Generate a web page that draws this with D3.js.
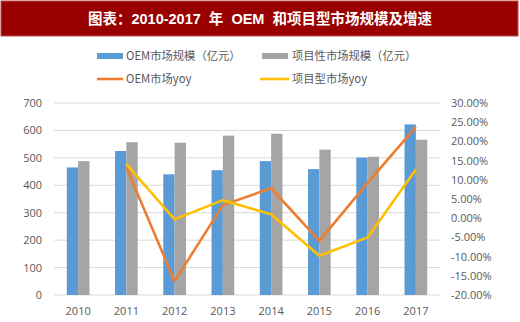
<!DOCTYPE html>
<html>
<head>
<meta charset="utf-8">
<script src="https://cdn.jsdelivr.net/npm/d3@7"></script>
<style>
body { margin: 0; background: #fff; }
text { font-family: "Noto Sans CJK SC", "Liberation Sans", sans-serif; }
</style>
</head>
<body>
<script>
let years = ["2010","2011","2012","2013","2014","2015","2016","2017"];
let oemSize = [465, 525, 440, 455, 488, 459, 501, 622];
let projSize = [488, 557, 555, 581, 588, 530, 504, 566];
let oemYoy = [null, 13.2, -16.4, 3.4, 7.8, -5.9, 9.2, 23.8];
let projYoy = [null, 14.1, -0.3, 4.7, 1.0, -9.8, -5.0, 12.7];
let leftTicks = [0,100,200,300,400,500,600,700];
let rightTicks = [-20,-15,-10,-5,0,5,10,15,20,25,30];

let W = 520, H = 322;
let svg = d3.select("body").append("svg").attr("width",W).attr("height",H);

// title banner
svg.append("rect").attr("x",1).attr("y",1).attr("width",517).attr("height",35)
    .attr("fill","#990000").attr("stroke","#b54a4a").attr("stroke-width",1);
svg.append("text").attr("x",260).attr("y",24).attr("text-anchor","middle")
    .attr("fill","#fff").attr("font-size",14.5).attr("font-weight","bold")
    .style("font-family","'Liberation Sans','Noto Sans CJK SC',sans-serif")
    .attr("xml:space","preserve")
    .text("图表：2010-2017  年  OEM  和项目型市场规模及增速");

let x = d3.scaleBand().domain(years).range([54,440]);
let y = d3.scaleLinear().domain([0,700]).range([295,103]);
let y2 = d3.scaleLinear().domain([-20,30]).range([295,103]);

// grid
svg.append("g").selectAll("line").data(leftTicks).join("line")
    .attr("x1",54).attr("x2",440)
    .attr("y1",d=>y(d)).attr("y2",d=>y(d))
    .attr("stroke","#d9d9d9").attr("stroke-width",1);

let leftAxis = svg.append("g").attr("transform","translate(54,0)")
    .call(d3.axisLeft(y).tickValues(leftTicks).tickSize(0).tickPadding(12));
let rightAxis = svg.append("g").attr("transform","translate(440,0)")
    .call(d3.axisRight(y2).tickValues(rightTicks).tickSize(0).tickPadding(11)
        .tickFormat(d=>d.toFixed(2)+"%"));
let bottomAxis = svg.append("g").attr("transform","translate(0,295)")
    .call(d3.axisBottom(x).tickSize(0).tickPadding(12));
[leftAxis,rightAxis,bottomAxis].forEach(g=>{
  g.select(".domain").remove();
  g.selectAll("text").attr("fill","#595959").attr("font-size",11)
    .style("font-family","'Open Sans','Noto Sans',sans-serif");
});
bottomAxis.selectAll("text").attr("dy","0.75em");

// bars
let bw = x.bandwidth()*0.235;
svg.append("g").selectAll("rect").data(years).join("rect")
    .attr("x",(d)=>x(d)+x.bandwidth()/2-bw)
    .attr("y",(d,i)=>y(oemSize[i]))
    .attr("width",bw).attr("height",(d,i)=>y(0)-y(oemSize[i]))
    .attr("fill","#5b9bd5");
svg.append("g").selectAll("rect").data(years).join("rect")
    .attr("x",(d)=>x(d)+x.bandwidth()/2)
    .attr("y",(d,i)=>y(projSize[i]))
    .attr("width",bw).attr("height",(d,i)=>y(0)-y(projSize[i]))
    .attr("fill","#a5a5a5");

// lines
let line = d3.line()
    .defined(d=>d.v!==null)
    .x(d=>x(d.year)+x.bandwidth()/2)
    .y(d=>y2(d.v));
svg.append("path").datum(years.map((d,i)=>({year:d,v:oemYoy[i]})))
    .attr("d",line).attr("fill","none").attr("stroke","#ed7d31")
    .attr("stroke-width",2.6).attr("stroke-linejoin","round");
svg.append("path").datum(years.map((d,i)=>({year:d,v:projYoy[i]})))
    .attr("d",line).attr("fill","none").attr("stroke","#ffc000")
    .attr("stroke-width",2.6).attr("stroke-linejoin","round");

// legend
let leg = svg.append("g").attr("font-size",11.3);
leg.append("rect").attr("x",97).attr("y",53).attr("width",26).attr("height",6).attr("fill","#5b9bd5");
leg.append("text").attr("x",126).attr("y",60).attr("fill","#595959").text("OEM市场规模（亿元）");
leg.append("rect").attr("x",262).attr("y",53).attr("width",26).attr("height",6).attr("fill","#a5a5a5");
leg.append("text").attr("x",292).attr("y",60).attr("fill","#595959").text("项目性市场规模（亿元）");
leg.append("line").attr("x1",97).attr("x2",123).attr("y1",79).attr("y2",79).attr("stroke","#ed7d31").attr("stroke-width",2.6);
leg.append("text").attr("x",126).attr("y",83).attr("fill","#595959").text("OEM市场yoy");
leg.append("line").attr("x1",260).attr("x2",289).attr("y1",79).attr("y2",79).attr("stroke","#ffc000").attr("stroke-width",2.6);
leg.append("text").attr("x",292).attr("y",83).attr("fill","#595959").text("项目型市场yoy");
</script>
</body>
</html>
